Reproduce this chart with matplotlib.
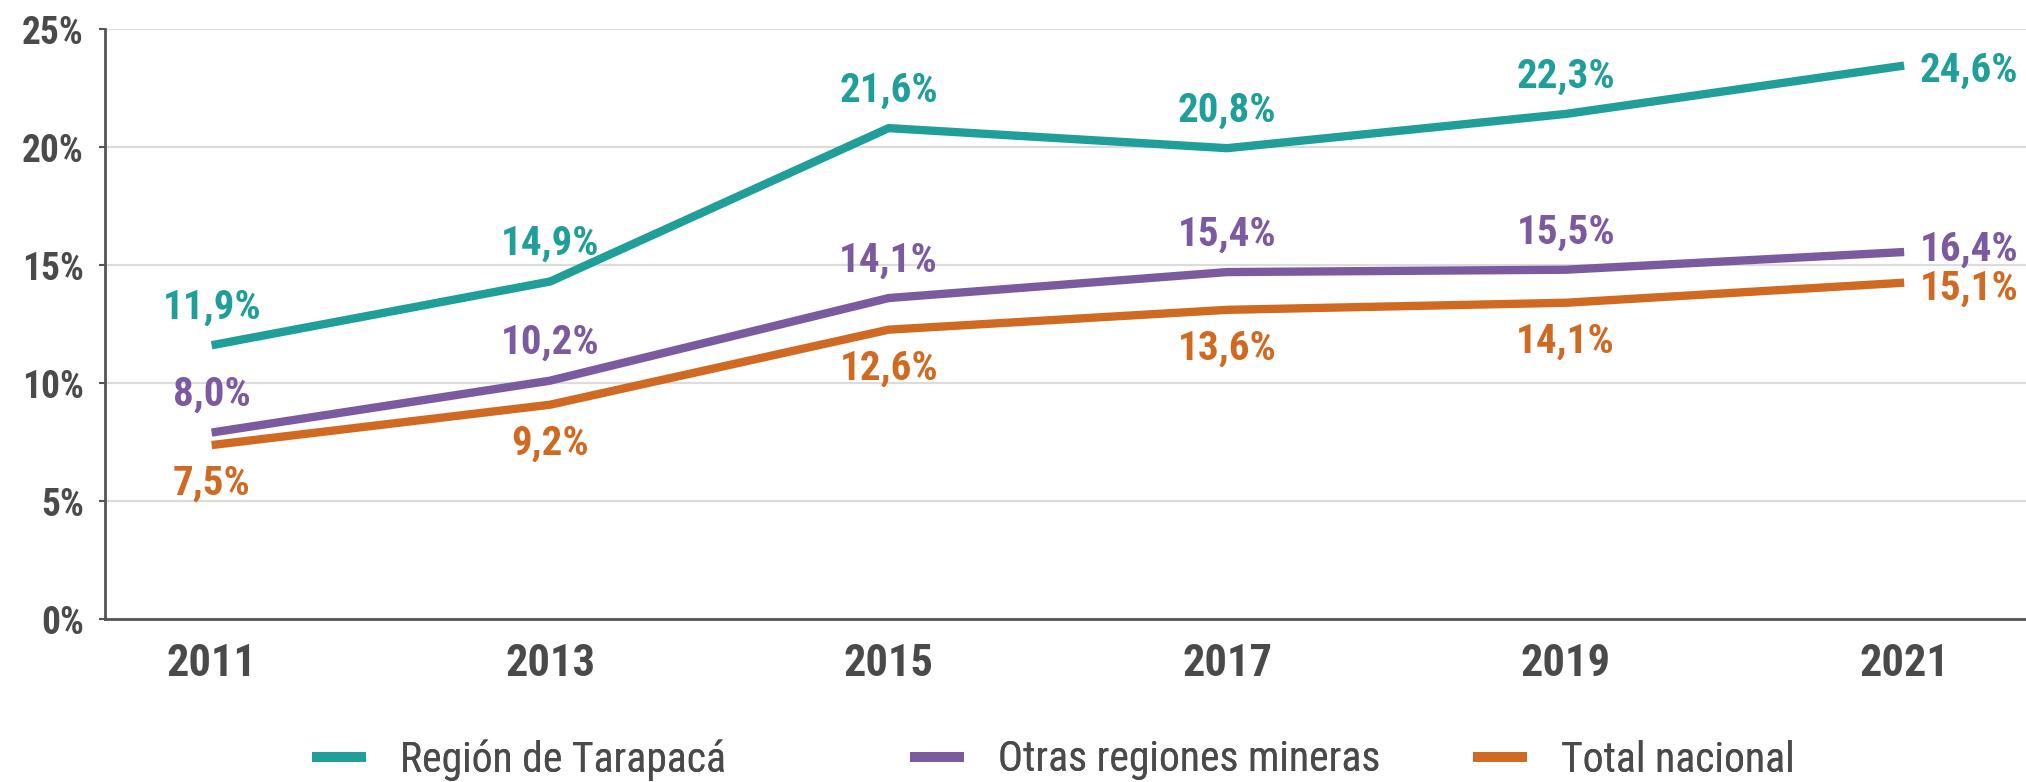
import matplotlib
matplotlib.use("Agg")
import matplotlib.pyplot as plt
from matplotlib import font_manager as fm
from matplotlib.ticker import FuncFormatter
from matplotlib.lines import Line2D

years = [2011, 2013, 2015, 2017, 2019, 2021]
tarapaca = [11.6, 14.3, 20.8, 19.95, 21.4, 23.45]
otras = [7.9, 10.1, 13.6, 14.7, 14.8, 15.55]
total = [7.37, 9.08, 12.26, 13.1, 13.4, 14.25]
tarapaca_lbl = ["11,9%", "14,9%", "21,6%", "20,8%", "22,3%", "24,6%"]
otras_lbl = ["8,0%", "10,2%", "14,1%", "15,4%", "15,5%", "16,4%"]
total_lbl = ["7,5%", "9,2%", "12,6%", "13,6%", "14,1%", "15,1%"]
series_names = ["Región de Tarapacá", "Otras regiones mineras", "Total nacional"]
yticks = [0, 5, 10, 15, 20, 25]

fonts = fm.fontManager.ttflist
names = {f.name for f in fonts}
if 'Roboto Condensed' in names:
    fam = 'Roboto Condensed'
    scale = 1.0
elif 'Liberation Sans Narrow' in names:
    fam = 'Liberation Sans Narrow'
    scale = 1.0
else:
    fam = 'Roboto' if 'Roboto' in names else 'DejaVu Sans'
    scale = 0.85
plt.rcParams['font.family'] = [fam, 'DejaVu Sans']

TEAL = '#1f9e9a'
PURPLE = '#7b5a9f'
ORANGE = '#d06a22'
GRAY = '#4a4a4a'
colors = [TEAL, PURPLE, ORANGE]

W, H = 2026, 782
fig = plt.figure(figsize=(W / 100, H / 100), dpi=100)
ax = fig.add_axes([105 / W, 1 - 619 / H, (W - 105) / W, (619 - 29) / H])

for vals, c, nm in zip([tarapaca, otras, total], colors, series_names):
    ax.plot(years, vals, color=c, lw=6, solid_capstyle='butt', label=nm)

fs = 29.5 * scale


def put(xs, ys, labels, color, dy, dy_last):
    n = len(xs)
    for i, (x, y, s) in enumerate(zip(xs, ys, labels)):
        if i == n - 1:
            ax.annotate(s, (x, y), xytext=(11.5, dy_last), textcoords='offset points', ha='left',
                        va='center', color=color, fontsize=fs, fontweight='bold')
        else:
            ax.annotate(s, (x, y), xytext=(0, dy), textcoords='offset points', ha='center',
                        va='center', color=color, fontsize=fs, fontweight='bold')


put(years, tarapaca, tarapaca_lbl, TEAL, 27, -3.5)
put(years, otras, otras_lbl, PURPLE, 27, 2)
put(years, total, total_lbl, ORANGE, -28, -4)

ax.set_ylim(0, 25)
ax.set_xlim(2010.37, 2021.72)
ax.set_yticks(yticks)
ax.yaxis.set_major_formatter(FuncFormatter(lambda v, p: f"{int(v)}%"))
ax.set_xticks(years)
ax.set_xticklabels([str(y) for y in years])
ax.grid(axis='y', color='#dcdcdc', lw=1.6)
ax.set_axisbelow(True)
for s in ['top', 'right']:
    ax.spines[s].set_visible(False)
for s in ['left', 'bottom']:
    ax.spines[s].set_color('#555555')
    ax.spines[s].set_linewidth(2)
ax.tick_params(axis='y', length=4.3, width=1.5, color='#555555', labelsize=27 * scale,
               labelcolor=GRAY, pad=11)
ax.tick_params(axis='x', length=0, labelsize=32 * scale, labelcolor=GRAY, pad=17)
for t in ax.get_xticklabels() + ax.get_yticklabels():
    t.set_fontweight('bold')

# legend: one entry per legend, anchored at the reference handle positions
leg_x = [312, 910, 1473]
for xpx, c, nm in zip(leg_x, colors, series_names):
    h = Line2D([], [], color=c, lw=7, solid_capstyle='butt')
    lg = fig.legend([h], [nm], loc='center left', bbox_to_anchor=(xpx / W, 1 - 760 / H),
                    frameon=False, fontsize=30 * scale, handlelength=1.3, handletextpad=0.8,
                    borderpad=0, borderaxespad=0, labelcolor=GRAY)
    fig.add_artist(lg)

fig.savefig('out.png', dpi=100)
